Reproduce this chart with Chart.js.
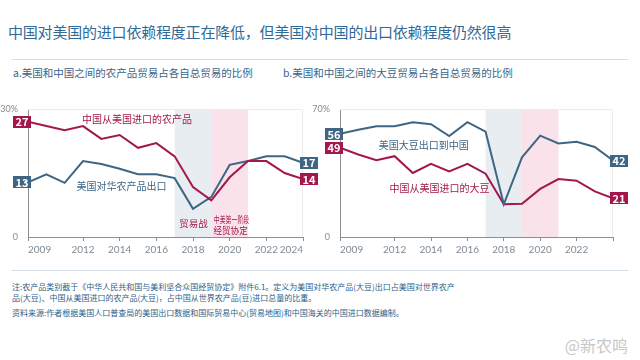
<!DOCTYPE html>
<html><head><meta charset="utf-8">
<script src="https://cdn.jsdelivr.net/npm/chart.js@4"></script>
<style>
html,body{margin:0;padding:0;background:#fff;}
body{width:640px;height:360px;position:relative;overflow:hidden;font-family:"Noto Sans CJK SC","Noto Sans",sans-serif;}
.abs{position:absolute;white-space:nowrap;}
#title{left:8px;top:21px;font-size:15px;color:#2f6a98;letter-spacing:-0.2px;}
.sub{top:65px;font-size:10.5px;color:#3a6488;}
.rule{position:absolute;left:12px;width:616px;height:1px;background:#d3dce4;}
.note{left:12px;font-size:8px;color:#2d5f8a;}
#wm{right:12px;top:333px;font-size:16px;color:#c8c8c8;}
canvas{position:absolute;}
</style></head>
<body>
<div id="title" class="abs">中国对美国的进口依赖程度正在降低，但美国对中国的出口依赖程度仍然很高</div>
<div class="rule" style="top:59px"></div>
<div class="abs sub" style="left:13px">a.美国和中国之间的农产品贸易占各自总贸易的比例</div>
<div class="abs sub" style="left:283px">b.美国和中国之间的大豆贸易占各自总贸易的比例</div>
<div style="position:absolute;left:0;top:95px;width:320px;height:165px"><canvas id="c1" width="320" height="165"></canvas></div>
<div style="position:absolute;left:310px;top:95px;width:330px;height:165px"><canvas id="c2" width="330" height="165"></canvas></div>
<div class="rule" style="top:270px"></div>
<div class="abs note" style="top:281px">注:农产品类别截于《中华人民共和国与美利坚合众国经贸协定》附件6.1。定义为美国对华农产品(大豆)出口占美国对世界农产</div>
<div class="abs note" style="top:292px">品(大豆)、中国从美国进口的农产品(大豆)，占中国从世界农产品(豆)进口总量的比重。</div>
<div class="abs note" style="top:307px">资料来源:作者根据美国人口普查局的美国出口数据和国际贸易中心(贸易地图)和中国海关的中国进口数据编制。</div>
<div id="wm" class="abs">@新农鸣</div>
<script>
// ---- data ----
const years = [2009,2010,2011,2012,2013,2014,2015,2016,2017,2018,2019,2020,2021,2022,2023,2024];
const chinaAgImportsFromUS = [27.0,26.0,25.0,26.0,23.0,23.9,20.9,22.0,18.9,11.7,8.6,14.0,17.8,17.8,15.0,13.6];
const usAgExportsToChina   = [12.8,14.7,12.7,17.8,17.1,16.0,14.7,14.7,13.8,6.6,9.4,16.9,17.8,18.9,18.9,17.4];
const usSoyExportsToChina  = [56.4,58.6,60.6,60.6,62.8,61.7,55.2,62.8,57.6,17.9,43.6,55.4,51.2,52.1,49.2,41.8];
const chinaSoyImportsFromUS= [48.8,45.1,42.0,44.2,35.0,40.0,35.9,40.0,34.6,17.9,18.2,26.3,31.7,30.8,24.9,21.2];
const xTickYears = [2009,2012,2014,2016,2018,2020,2022,2024];
const leftXTickLabels  = ['2009','2012','2014','2016','2018','2020','2022','2024'];
const rightXTickLabels = ['2009','2012','2014','2016','2018','2020','2022',''];
const tradeWarPeriod = [2017,2019];
const phaseOnePeriod = [2019,2021];

const RED = '#a3174c', BLUE = '#3e6583';
const FONT = '"Noto Sans CJK SC","Noto Sans",sans-serif';

function pts(vals){ return years.map((y,i)=>({x:y,y:vals[i]})); }

const bandsPlugin = {
  id:'bands',
  beforeDatasetsDraw(chart){
    const {ctx, chartArea:a, scales:{x}} = chart;
    ctx.save();
    ctx.fillStyle = '#e8edf2';
    ctx.fillRect(x.getPixelForValue(tradeWarPeriod[0]), a.top, x.getPixelForValue(tradeWarPeriod[1]) - x.getPixelForValue(tradeWarPeriod[0]), a.bottom - a.top);
    ctx.fillStyle = '#f9e2ea';
    ctx.fillRect(x.getPixelForValue(phaseOnePeriod[0]), a.top, x.getPixelForValue(phaseOnePeriod[1]) - x.getPixelForValue(phaseOnePeriod[0]), a.bottom - a.top);
    ctx.strokeStyle = '#ebebeb'; ctx.lineWidth = 1;
    ctx.beginPath();
    ctx.moveTo(a.left, a.top+0.5); ctx.lineTo(a.right-0.5, a.top+0.5); ctx.lineTo(a.right-0.5, a.bottom);
    ctx.stroke();
    ctx.restore();
  }
};

function box(ctx, cx, cy, text, color){
  ctx.font = 'bold 11px ' + FONT;
  const w = ctx.measureText(text).width + 5, h = 12;
  ctx.fillStyle = color;
  ctx.fillRect(Math.round(cx - w/2), Math.round(cy - h/2), Math.round(w), h);
  ctx.fillStyle = '#fff';
  ctx.textAlign = 'center'; ctx.textBaseline = 'middle';
  ctx.fillText(text, cx, cy + 0.5);
}

const boxesPlugin = {
  id:'boxes',
  afterDatasetsDraw(chart){
    const {ctx, chartArea:a, scales:{x,y}} = chart;
    ctx.save();
    chart.data.datasets.forEach(ds=>{
      const d = ds.data;
      box(ctx, a.left - 6, y.getPixelForValue(d[0].y), String(Math.round(d[0].y)), ds.borderColor);
      box(ctx, a.right + 6, y.getPixelForValue(d[d.length-1].y), String(Math.round(d[d.length-1].y)), ds.borderColor);
    });
    ctx.restore();
  }
};

const notesPlugin = {
  id:'notes',
  afterDatasetsDraw(chart, args, opts){
    const {ctx, scales:{x,y}} = chart;
    ctx.save();
    ctx.textAlign = 'center'; ctx.textBaseline = 'middle';
    (opts.items||[]).forEach(it=>{
      ctx.fillStyle = it.color;
      ctx.font = (it.size||10) + 'px ' + FONT;
      const px = x.getPixelForValue(it.x), py = y.getPixelForValue(it.y);
      ctx.save();
      ctx.translate(px, py);
      ctx.scale(it.sx||1, 1);
      ctx.fillText(it.text, 0, 0);
      ctx.restore();
    });
    ctx.restore();
  }
};

function makeChart(id, s1, s2, c1, c2, yMax, axisW, padRight, tickLabels, items){
  return new Chart(document.getElementById(id), {
    type:'line',
    data:{datasets:[
      {data:pts(s1), borderColor:c1, borderWidth:2, pointRadius:0, tension:0, fill:false},
      {data:pts(s2), borderColor:c2, borderWidth:2, pointRadius:0, tension:0, fill:false}
    ]},
    options:{
      responsive:false, animation:false,
      layout:{padding:{left:0,right:padRight,top:14,bottom:0}},
      plugins:{legend:{display:false}, tooltip:{enabled:false}, notes:{items}},
      scales:{
        x:{type:'linear', min:years[0], max:years[years.length-1],
          afterBuildTicks(s){ s.ticks = xTickYears.map(v=>({value:v})); },
          afterFit(s){ s.height = 23; },
          grid:{drawOnChartArea:false, tickLength:4, color:'#8e8e8e'},
          border:{color:'#8e8e8e', width:1},
          ticks:{align:'inner', maxRotation:0, autoSkip:false, padding:3, color:'#7f8a94',
            font:{family:'Lato', size:10},
            callback(v){ const i = xTickYears.indexOf(v); return i>=0 ? tickLabels[i] : ''; }}
        },
        y:{min:0, max:yMax,
          afterBuildTicks(s){ s.ticks = [{value:0},{value:yMax}]; },
          afterFit(s){ s.width = axisW; },
          grid:{display:false},
          border:{display:true, color:'#8e8e8e', width:1},
          ticks:{padding:2, color:'#8a8a8a', font:{family:'Lato', size:9},
            callback(v){ return v===0 ? '0' : v + '%'; }}
        }
      }
    },
    plugins:[bandsPlugin, boxesPlugin, notesPlugin]
  });
}

makeChart('c1', chinaAgImportsFromUS, usAgExportsToChina, RED, BLUE, 30, 28, 17, leftXTickLabels, [
  {x:2014.95, y:27.6, text:'中国从美国进口的农产品', color:RED, size:10},
  {x:2014.1, y:11.9, text:'美国对华农产品出口', color:BLUE, size:10},
  {x:2018.03, y:3.3, text:'贸易战', color:RED, size:9.5},
  {x:2020.1, y:4.2, text:'中美第一阶段', color:RED, size:9.5, sx:0.62},
  {x:2020.05, y:1.6, text:'经贸协定', color:RED, size:9.5, sx:0.9}
]);
makeChart('c2', usSoyExportsToChina, chinaSoyImportsFromUS, BLUE, RED, 70, 30, 27, rightXTickLabels, [
  {x:2013.6, y:50.2, text:'美国大豆出口到中国', color:BLUE, size:10},
  {x:2014.47, y:26.5, text:'中国从美国进口的大豆', color:RED, size:10}
]);
</script>
</body></html>
